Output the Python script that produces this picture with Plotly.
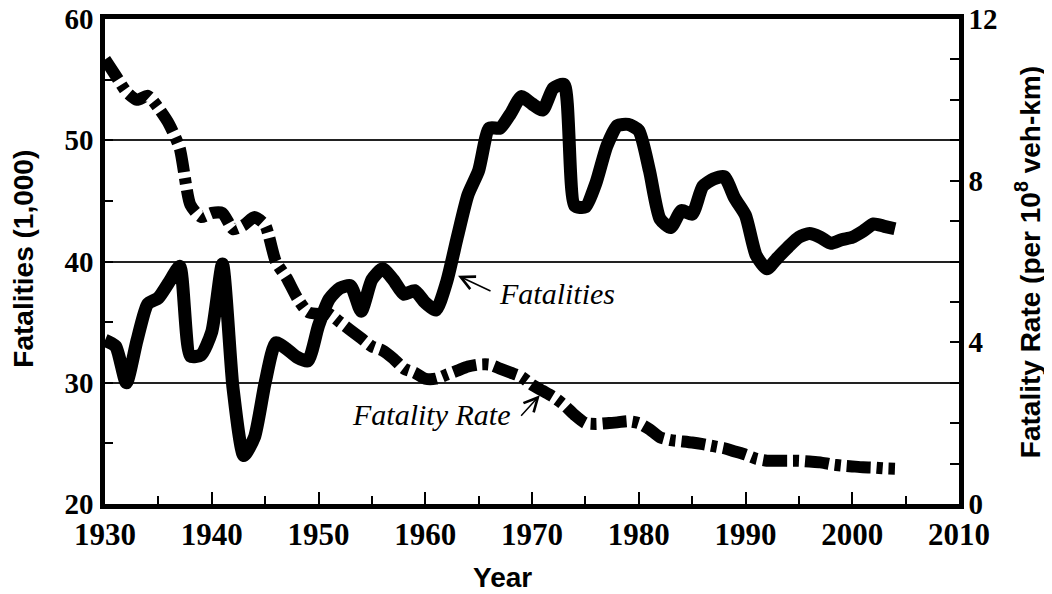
import plotly.graph_objects as go

years = list(range(1930, 2005))

fatalities = [
    33.5, 33.0, 30.0, 33.5, 36.5, 37.0, 38.3, 39.6, 32.2, 32.3,
    34.2, 39.8, 29.5, 24.0, 25.5, 30.0, 33.3, 32.8, 32.1, 31.8,
    34.7, 36.9, 37.8, 38.0, 35.9, 38.5, 39.4, 38.5, 37.3, 37.6,
    36.6, 36.0, 38.3, 42.0, 45.5, 47.5, 51.0, 51.0, 52.2, 53.6,
    53.0, 52.5, 54.3, 54.6, 44.6, 44.5, 46.5, 49.5, 51.2, 51.3,
    50.8, 47.5, 43.5, 42.8, 44.2, 43.9, 46.2, 46.8, 47.0, 45.2,
    43.8, 40.5, 39.4, 40.3, 41.2, 42.0, 42.3, 42.0, 41.5, 41.8,
    42.0, 42.5, 43.1, 42.9, 42.7,
]

fatality_rate = [
    11.0, 10.6, 10.2, 10.0, 10.1, 9.8, 9.4, 8.8, 7.4, 7.1,
    7.2, 7.2, 6.8, 6.9, 7.1, 6.9, 6.0, 5.6, 5.1, 4.75,
    4.7, 4.7, 4.5, 4.3, 4.1, 3.9, 3.8, 3.6, 3.35, 3.25,
    3.1, 3.1, 3.2, 3.3, 3.4, 3.45, 3.45, 3.35, 3.25, 3.15,
    2.95, 2.8, 2.65, 2.45, 2.2, 2.0, 1.98, 2.0, 2.02, 2.05,
    2.0, 1.85, 1.65, 1.58, 1.55, 1.52, 1.48, 1.43, 1.38, 1.3,
    1.22, 1.12, 1.07, 1.07, 1.07, 1.07, 1.05, 1.03, 0.98, 0.95,
    0.93, 0.91, 0.9, 0.88, 0.87,
]

x_ticks = [1930, 1940, 1950, 1960, 1970, 1980, 1990, 2000, 2010]
left_ticks = [20, 30, 40, 50, 60]
right_ticks = [0, 4, 8, 12]

serif_bold_x = dict(family="Liberation Serif", size=31, color="black", weight="bold")
serif_bold_y = dict(family="Liberation Serif", size=29, color="black", weight="bold")
sans_bold = dict(family="Liberation Sans", size=28, color="black", weight="bold")
italic_serif = dict(family="Liberation Serif", size=30, color="black", style="italic")

fig = go.Figure()
fig.add_trace(go.Scatter(
    x=years, y=fatalities, mode="lines", name="Fatalities", yaxis="y",
    line=dict(color="black", width=13, shape="spline", smoothing=0.6),
    showlegend=False,
))
fig.add_trace(go.Scatter(
    x=years, y=fatality_rate, mode="lines", name="Fatality Rate", yaxis="y2",
    line=dict(color="black", width=12, dash="24px,6px,6px,6px",
              shape="spline", smoothing=0.6),
    showlegend=False,
))

fig.update_layout(
    template="none",
    width=1044, height=586,
    margin=dict(l=97, r=93, t=11, b=90, autoexpand=False),
    paper_bgcolor="white", plot_bgcolor="white",
    xaxis=dict(
        range=[1930, 2010], tickvals=x_ticks, ticks="inside", ticklen=12,
        tickwidth=2, tickcolor="black", showline=True, linewidth=4.5,
        linecolor="black", mirror=True, showgrid=False, zeroline=False,
        tickfont=serif_bold_x, ticklabelstandoff=-1, automargin=False,
        ticklabeloverflow="allow",
        minor=dict(dtick=5, ticks="inside", ticklen=8, tickwidth=2,
                   tickcolor="black", showgrid=False),
    ),
    yaxis=dict(
        range=[20, 60], tickvals=left_ticks, ticks="inside", ticklen=8,
        tickwidth=2, tickcolor="black", showline=True, linewidth=4.5,
        linecolor="black", showgrid=True, gridcolor="#222", gridwidth=1.5,
        zeroline=False, tickfont=serif_bold_y, ticklabelstandoff=1,
        automargin=False, ticklabeloverflow="allow",
        minor=dict(dtick=5, ticks="inside", ticklen=8, tickwidth=2,
                   tickcolor="black", showgrid=False),
    ),
    yaxis2=dict(
        range=[0, 12], tickvals=right_ticks, overlaying="y", side="right",
        ticks="inside", ticklen=9, tickwidth=2, tickcolor="black",
        showline=True, linewidth=4.5, linecolor="black", showgrid=False,
        zeroline=False, tickfont=serif_bold_y, ticklabelstandoff=-1,
        automargin=False, ticklabeloverflow="allow",
        minor=dict(dtick=1, ticks="inside", ticklen=9, tickwidth=2,
                   tickcolor="black", showgrid=False),
    ),
    annotations=[
        dict(text="Year", xref="paper", yref="paper", x=0.465, y=-0.152,
             xanchor="center", yanchor="middle",
             showarrow=False, font=dict(family="Liberation Sans", size=28,
                                        color="black", weight="bold")),
        dict(text="Fatalities (1,000)", xref="paper", yref="paper",
             x=-0.0948, y=0.506, xanchor="center", yanchor="middle",
             textangle=-90, showarrow=False, font=sans_bold),
        dict(text="Fatality Rate (per 10<sup>8</sup> veh-km)", xref="paper",
             yref="paper", x=1.081, y=0.499, xanchor="center",
             yanchor="middle", textangle=-90, showarrow=False,
             font=sans_bold),
        dict(text="Fatalities", xref="x", yref="y", x=1966.7, y=37.33,
             xanchor="left", yanchor="middle", showarrow=False,
             font=italic_serif),
        dict(text="", xref="x", yref="y", x=1963.07, y=38.83, ax=34, ay=16,
             showarrow=True, arrowhead=5, arrowsize=1.8, arrowwidth=1.5,
             arrowcolor="black"),
        dict(text="Fatality Rate", xref="x", yref="y", x=1968.1, y=27.37,
             xanchor="right", yanchor="middle", showarrow=False,
             font=italic_serif),
        dict(text="", xref="x", yref="y", x=1970.73, y=28.96, ax=-20, ay=22,
             showarrow=True, arrowhead=5, arrowsize=1.8, arrowwidth=1.5,
             arrowcolor="black"),
    ],
)

fig.write_html("out.html")
